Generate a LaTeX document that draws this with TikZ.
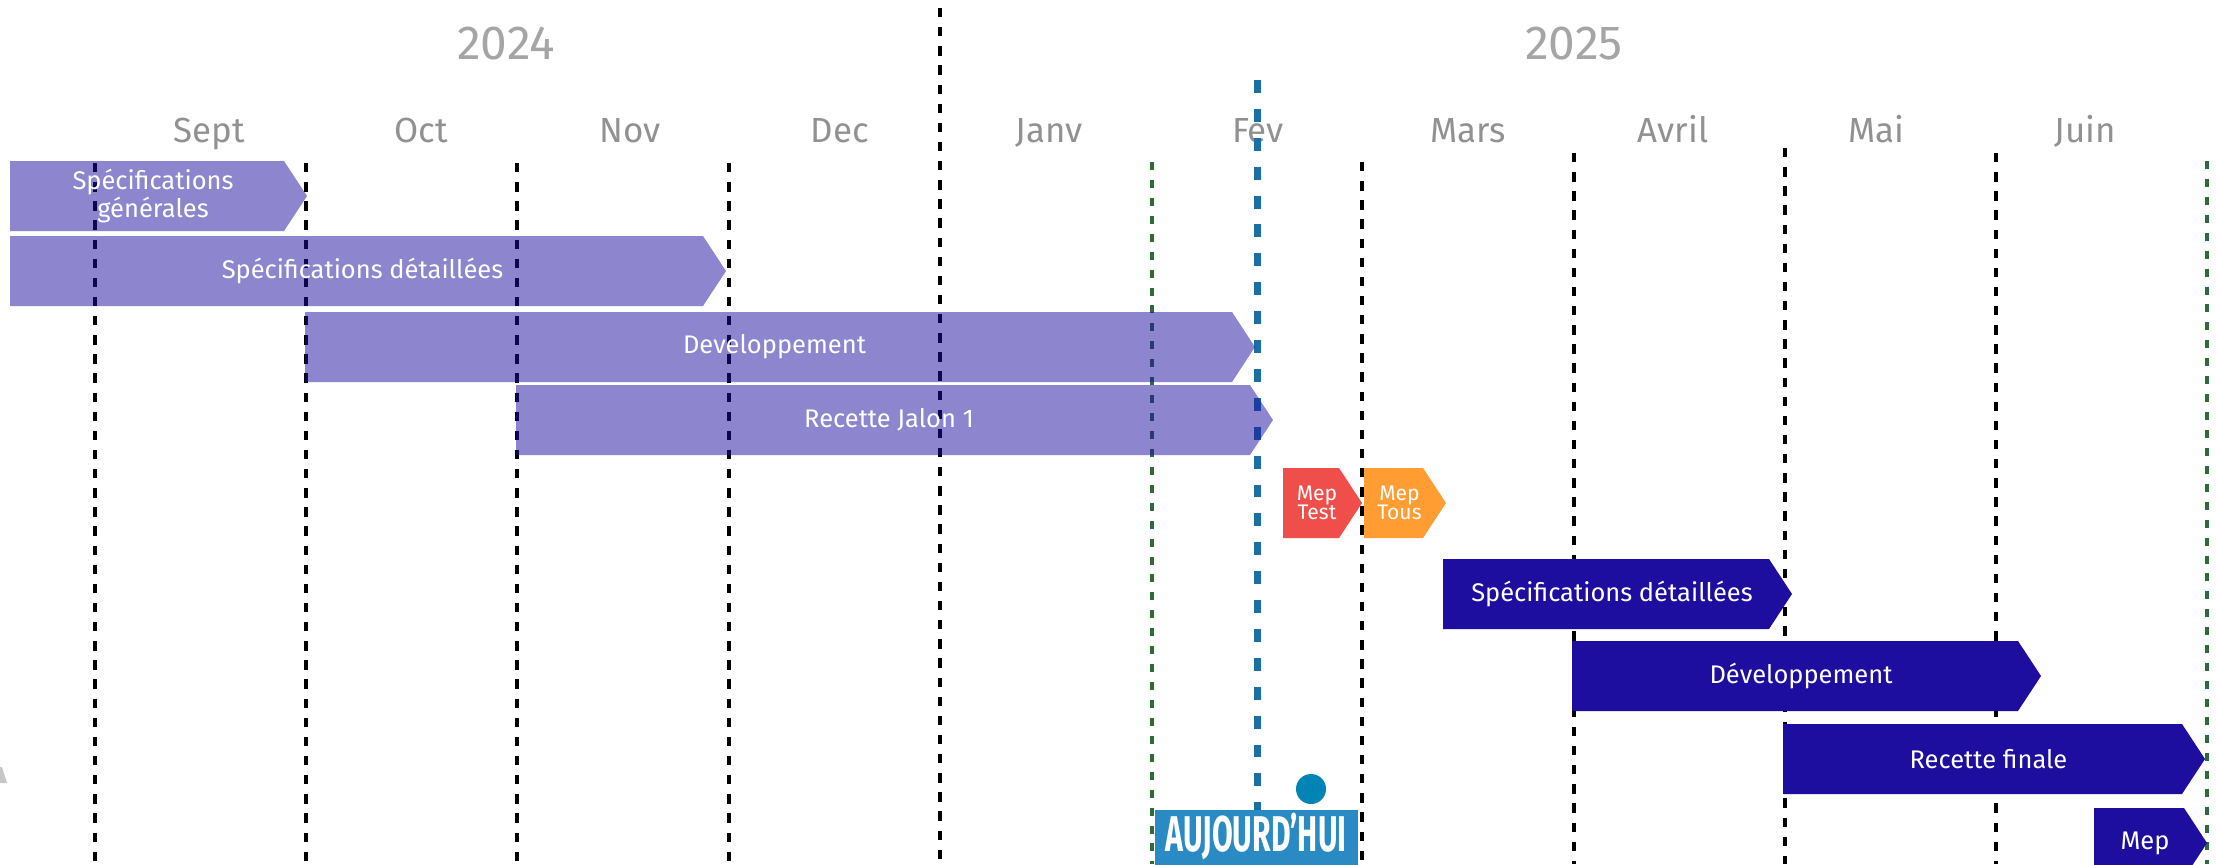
\documentclass[tikz,border=0pt]{standalone}
\usepackage{fontspec}
\setmainfont{Fira Sans}
\usetikzlibrary{positioning}

\definecolor{jalonblue}{RGB}{29,14,159}
\definecolor{meptestred}{RGB}{239,78,74}
\definecolor{meptousorange}{RGB}{255,157,51}
\definecolor{todayblue}{RGB}{42,138,196}
\definecolor{dotblue}{RGB}{0,131,181}
\definecolor{todayline}{RGB}{26,111,163}
\definecolor{limitgreen}{RGB}{46,107,58}
\definecolor{monthgray}{RGB}{145,145,145}
\definecolor{yeargray}{RGB}{165,165,165}

\tikzset{
  monthlabel/.style={text=monthgray, font=\fontsize{17.5}{20}\selectfont, anchor=base},
  yearlabel/.style={text=yeargray, font=\fontsize{24}{28}\selectfont, anchor=base},
  bartext/.style={text=white, font=\fontsize{12.8}{11.8}\selectfont, align=center, inner sep=0pt},
  smalltext/.style={text=white, font=\fontsize{10.6}{9.8}\selectfont, align=center, inner sep=0pt},
  monthline/.style={black, line width=2.3pt, dash pattern=on 4.7pt off 4.9pt},
  limitline/.style={limitgreen, line width=2pt, dash pattern=on 4pt off 5pt},
  nowline/.style={todayline, line width=3.5pt, dash pattern=on 6.5pt off 8pt},
  firstbar/.style={jalonblue, fill opacity=0.5},
  secondbar/.style={jalonblue}
}

% #1 name, #2 start, #3 tip, #4 top, #5 fill style, #6 text style, #7 label
\newcommand{\ganttbar}[7]{
  \fill[#5] (#2,#4) -- ({#3-23},#4) -- (#3,{#4+35}) -- ({#3-23},{#4+70}) -- (#2,{#4+70}) -- cycle;
  \node[#6] (#1) at ({(#2+#3-11)/2},{#4+35}) {#7};
}

\begin{document}
\begin{tikzpicture}[x=0.5bp,y=-0.5bp]
\useasboundingbox (0,0) rectangle (2216,864);
\clip (0,0) rectangle (2216,864);
\fill[white] (0,0) rectangle (2216,864);

% years and months
\node[yearlabel] (y2024) at (506,59) {2024};
\node[yearlabel] (y2025) at (1574,59) {2025};
\foreach \m/\x in {Sept/209, Oct/421, Nov/630, Dec/840, Janv/1049, Fev/1258, Mars/1468, Avril/1673, Mai/1876, Juin/2085}
  \node[monthlabel] (m\m) at (\x,142) {\m};

% month separators
\foreach \x/\ytop in {95/163, 306/163, 517/163, 729/163, 1362/162, 1574/153, 1785/148, 1996/153}
  \draw[monthline] (\x,\ytop) -- (\x,864);
\draw[monthline] (940,8) -- (940,864);
\draw[limitline] (1152,162) -- (1152,864);
\draw[limitline] (2207,161) -- (2207,864);
\draw[nowline] (1257,80) -- (1257,810);

% jalon 1
\ganttbar{specgen}{10}{307}{161}{firstbar}{bartext}{Spécifications\\générales}
\ganttbar{specdet}{10}{726}{236}{firstbar}{bartext}{Spécifications détaillées}
\ganttbar{dev}{305}{1255}{312}{firstbar}{bartext}{Developpement}
\ganttbar{recette}{516}{1273}{385}{firstbar}{bartext}{Recette Jalon 1}
\ganttbar{meptest}{1283}{1362}{468}{meptestred}{smalltext}{Mep\\Test}
\ganttbar{meptous}{1364}{1446}{468}{meptousorange}{smalltext}{Mep\\Tous}

% jalon 2
\ganttbar{specdettwo}{1443}{1792}{559}{secondbar}{bartext}{Spécifications détaillées}
\ganttbar{devtwo}{1572}{2041}{641}{secondbar}{bartext}{Développement}
\ganttbar{recettefinale}{1783}{2205}{724}{secondbar}{bartext}{Recette finale}
\ganttbar{mep}{2094}{2207}{808}{secondbar}{bartext}{Mep}

% today
\fill[todayblue] (1155,810) rectangle (1358,880);
\node[text=white, font=\fontsize{24}{26}\selectfont\bfseries, inner sep=0pt] (today) at (1256,836) {\scalebox{0.63}[1.05]{AUJOURD’HUI}};
\node[circle, fill=dotblue, minimum size=15bp, inner sep=0pt] (nowdot) at (1311,789) {};

% cut-off mark at the left edge
\fill[gray!45] (0,767) -- (2,767) -- (7,783) -- (0,783) -- cycle;
\end{tikzpicture}
\end{document}
